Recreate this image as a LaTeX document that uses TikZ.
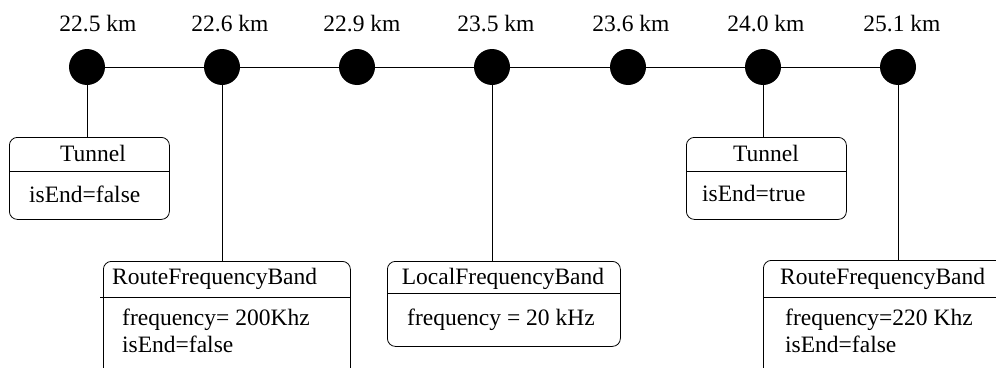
\documentclass[tikz,border=0pt]{standalone}
\usepackage{fontspec}
\setmainfont{Liberation Serif}
\begin{document}
\begin{tikzpicture}[x=1pt,y=-1pt,
  dot/.style={circle,fill=black,inner sep=0pt,minimum size=36pt},
  txt/.style={inner sep=0pt,font=\fontsize{23.5}{28}\selectfont},
  box/.style={draw,rounded corners=8pt,line width=0.8pt,inner sep=0pt,anchor=north west},
  wire/.style={line width=0.8pt}]
\clip (0,0) rectangle (996,367);
% kilometre points
\foreach \i/\x/\t in {1/98/22.5,2/230/22.6,3/362/22.9,4/496/23.5,5/631/23.6,6/766/24.0,7/902/25.1}{
  \node[txt,anchor=base] (l\i) at (\x,31) {\t\ km};
}
\draw[wire] (87,67) -- (898,67);
\foreach \i/\x in {1/87,2/222,3/357,4/492,5/628,6/763,7/898}{
  \node[dot] (k\i) at (\x,67) {};
}
% Tunnel 1
\node[box,minimum width=160pt,minimum height=82pt] (t1) at (9,137) {};
\draw[wire] (t1.west |- 0,171) -- (t1.east |- 0,171);
\node[txt,anchor=base] (t1n) at (93,161.7) {Tunnel};
\node[txt,anchor=base west] (t1a) at (29,202.7) {isEnd=false};
\draw[wire] (k1) -- (k1 |- t1.north);
% Route 1
\node[box,minimum width=247pt,minimum height=140pt] (r1) at (103,261) {};
\draw[wire] (100,297) -- (r1.east |- 0,297);
\node[txt,anchor=base west] (r1n) at (112,284) {RouteFrequencyBand};
\node[txt,anchor=base west] (r1a) at (122,325) {frequency= 200Khz};
\node[txt,anchor=base west] (r1b) at (122,352) {isEnd=false};
\draw[wire] (k2) -- (k2 |- r1.north);
% Local
\node[box,minimum width=233pt,minimum height=85pt] (lf) at (387,261) {};
\draw[wire] (lf.west |- 0,293) -- (lf.east |- 0,293);
\node[txt,anchor=base] (lfn) at (503,284) {LocalFrequencyBand};
\node[txt,anchor=base west] (lfa) at (407,325) {frequency = 20 kHz};
\draw[wire] (k4) -- (k4 |- lf.north);
% Tunnel 2
\node[box,minimum width=160pt,minimum height=82pt] (t2) at (686,137) {};
\draw[wire] (t2.west |- 0,171) -- (t2.east |- 0,171);
\node[txt,anchor=base] (t2n) at (766,161.7) {Tunnel};
\node[txt,anchor=base west] (t2a) at (702,201.7) {isEnd=true};
\draw[wire] (k6) -- (k6 |- t2.north);
% Route 2
\node[box,minimum width=260pt,minimum height=140pt] (r2) at (763,260) {};
\draw[wire] (r2.west |- 0,297) -- (1000,297);
\node[txt,anchor=base west] (r2n) at (780,284) {RouteFrequencyBand};
\node[txt,anchor=base west] (r2a) at (785,325) {frequency=220 Khz};
\node[txt,anchor=base west] (r2b) at (785,352) {isEnd=false};
\draw[wire] (k7) -- (k7 |- r2.north);
\end{tikzpicture}
\end{document}
